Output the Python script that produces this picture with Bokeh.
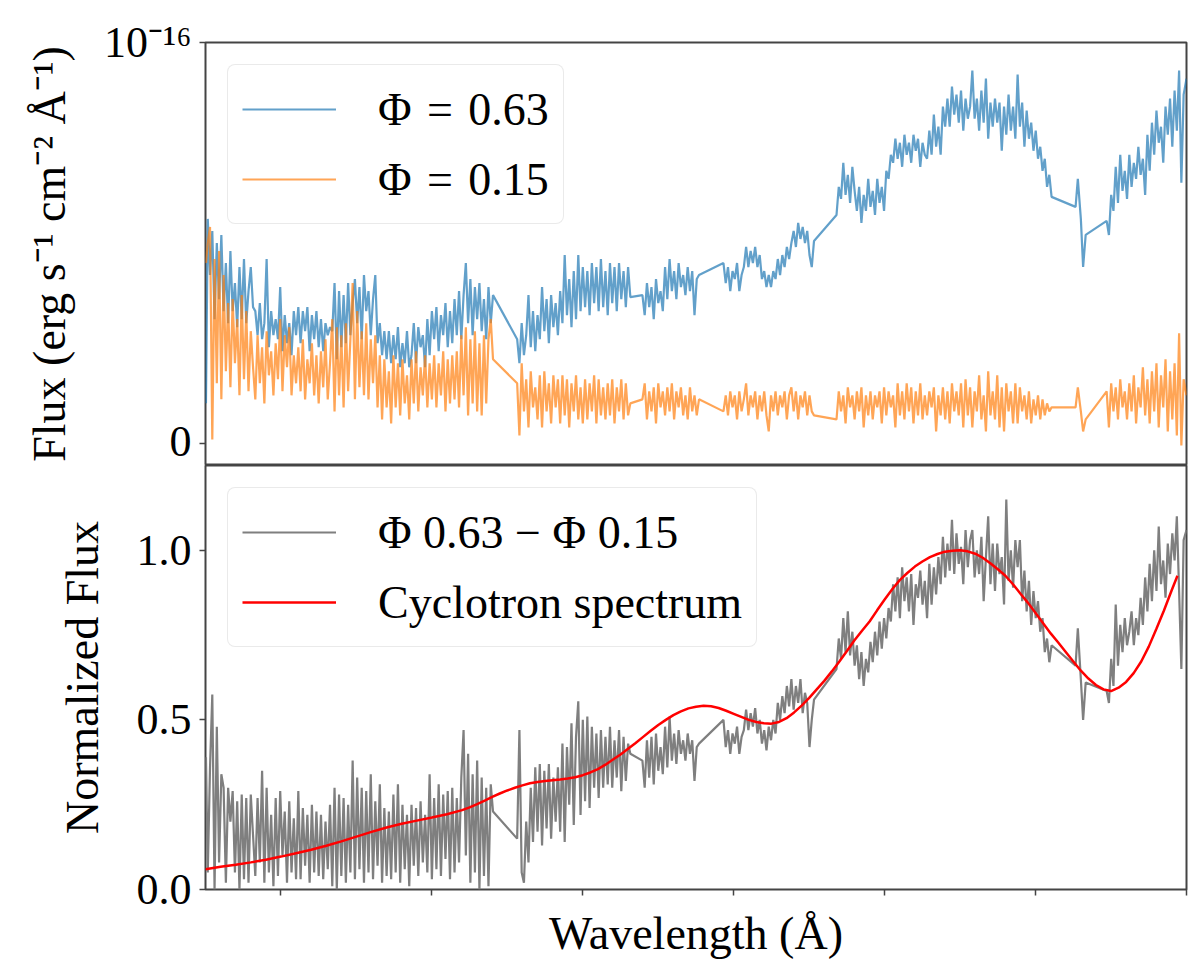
from bokeh.embed import file_html
from bokeh.layouts import column
from bokeh.models import FixedTicker, Legend, LegendItem, NumeralTickFormatter, Range1d
from bokeh.plotting import figure
from bokeh.resources import INLINE

# wavelength grid (Angstrom), shared by both phases and the difference spectrum
wave = [
    3503,
    3515, 3530, 3545, 3560, 3575, 3590, 3605, 3620, 3635, 3650,
    3665, 3680, 3695, 3710, 3725, 3740, 3755, 3770, 3785, 3800,
    3815, 3830, 3845, 3860, 3875, 3890, 3905, 3920, 3935, 3950,
    3965, 3980, 3995, 4010, 4025, 4040, 4055, 4070, 4085, 4100,
    4115, 4130, 4145, 4160, 4175, 4190, 4205, 4220, 4235, 4250,
    4265, 4280, 4295, 4310, 4325, 4340, 4355, 4370, 4385, 4400,
    4415, 4430, 4445, 4460, 4475, 4490, 4505, 4520, 4535, 4550,
    4565, 4580, 4595, 4610, 4625, 4640, 4655, 4670, 4685, 4700,
    4715, 4730, 4745, 4760, 4775, 4790, 4805, 4820, 4835, 4850,
    4865, 4880, 4895, 4910, 4925, 4940, 4955, 4970, 4985, 5000,
    5015, 5030, 5045, 5060, 5075, 5090, 5105, 5120, 5135, 5150,
    5165, 5180, 5195, 5210, 5225, 5240, 5255, 5270, 5285, 5300,
    5315, 5330, 5345, 5360, 5375, 5390, 5405,
    5565, 5580, 5595, 5610, 5625, 5640, 5655, 5670, 5685, 5700,
    5715, 5730, 5745, 5760, 5775, 5790, 5805, 5820, 5835, 5850,
    5865, 5880, 5895, 5910, 5925, 5940, 5955, 5970, 5985, 6000,
    6015, 6030, 6045, 6060, 6075, 6090, 6105, 6120, 6135, 6150,
    6165, 6180, 6195, 6210, 6225, 6240, 6255, 6270, 6285, 6300,
    6315,
    6395, 6410, 6425, 6440, 6455, 6470, 6485, 6500, 6515, 6530,
    6545, 6560, 6575, 6590, 6605, 6620, 6635, 6650, 6665, 6680,
    6695, 6710, 6725, 6740, 6755, 6770,
    6932, 6947, 6962, 6977, 6992, 7007, 7022, 7037, 7052, 7067,
    7082, 7097, 7112, 7127, 7142, 7157, 7172, 7187, 7202, 7217,
    7232, 7247, 7262, 7277, 7292, 7307, 7322, 7337, 7352, 7367,
    7382, 7397, 7412, 7427, 7442, 7457, 7472, 7487, 7502, 7517,
    7532,
    7681, 7696, 7711, 7726, 7741, 7756, 7771, 7786, 7801, 7816,
    7831, 7846, 7861, 7876, 7891, 7906, 7921, 7936, 7951, 7966,
    7981, 7996, 8011, 8026, 8041, 8056, 8071, 8086, 8101, 8116,
    8131, 8146, 8161, 8176, 8191, 8206, 8221, 8236, 8251, 8266,
    8281, 8296, 8311, 8326, 8341, 8356, 8371, 8386, 8401, 8416,
    8431, 8446, 8461, 8476, 8491, 8506, 8521, 8536, 8551, 8566,
    8581, 8596, 8611, 8626, 8641, 8656, 8671, 8686, 8701, 8716,
    8731, 8746, 8761, 8776, 8791, 8806, 8821, 8836, 8851, 8866,
    8881, 8896, 8911, 8926, 8941, 8956, 8971, 8986, 9001, 9016,
    9031, 9046, 9061, 9076, 9091, 9106,
    9265, 9280, 9300, 9315, 9332,
    9471, 9486, 9501, 9516, 9531, 9546, 9561, 9576, 9591, 9606,
    9621, 9636, 9651, 9666, 9681, 9696, 9711, 9726, 9741, 9756,
    9771, 9786, 9801, 9816, 9831, 9846, 9861, 9876, 9891, 9906,
    9921, 9936, 9951, 9966, 9981, 10000,
]

# flux at phase 0.63, in units of 1e-16 erg/s/cm2/A
flux_063 = [
    0.10,
    0.56, 0.42, 0.53, 0.31, 0.50, 0.36, 0.52, 0.33, 0.45, 0.30,
    0.48, 0.33, 0.40, 0.29, 0.44, 0.31, 0.46, 0.30, 0.38, 0.44,
    0.34, 0.33, 0.27, 0.35, 0.26, 0.30, 0.46, 0.24, 0.33, 0.27,
    0.31, 0.26, 0.39, 0.23, 0.32, 0.25, 0.30, 0.22, 0.33, 0.27,
    0.34, 0.25, 0.33, 0.28, 0.34, 0.23, 0.32, 0.26, 0.33, 0.24,
    0.31, 0.23, 0.30, 0.27, 0.29, 0.28, 0.40, 0.21, 0.38, 0.24,
    0.37, 0.25, 0.40, 0.27, 0.35, 0.41, 0.30, 0.39, 0.26, 0.42,
    0.33, 0.38, 0.27, 0.36, 0.42, 0.25, 0.30, 0.22, 0.28, 0.21,
    0.28, 0.20, 0.27, 0.21, 0.29, 0.19, 0.25, 0.20, 0.28, 0.19,
    0.22, 0.30, 0.20, 0.29, 0.24, 0.27, 0.19, 0.31, 0.22, 0.33,
    0.26, 0.34, 0.23, 0.32, 0.27, 0.35, 0.24, 0.33, 0.25, 0.36,
    0.27, 0.38, 0.26, 0.37, 0.45, 0.30, 0.41, 0.27, 0.39, 0.31,
    0.40, 0.28, 0.36, 0.26, 0.39, 0.30, 0.37,
    0.26, 0.20, 0.30, 0.22, 0.27, 0.37, 0.24, 0.33, 0.23, 0.32,
    0.26, 0.39, 0.28, 0.36, 0.25, 0.37, 0.29, 0.35, 0.27, 0.38,
    0.30, 0.47, 0.32, 0.41, 0.29, 0.43, 0.31, 0.47, 0.33, 0.44,
    0.34, 0.43, 0.32, 0.45, 0.35, 0.44, 0.33, 0.46, 0.34, 0.43,
    0.32, 0.45, 0.35, 0.44, 0.33, 0.45, 0.36, 0.43, 0.34, 0.44,
    0.365,
    0.37, 0.32, 0.40, 0.34, 0.39, 0.31, 0.41, 0.35, 0.38, 0.33,
    0.44, 0.36, 0.46, 0.38, 0.43, 0.36, 0.45, 0.39, 0.42, 0.37,
    0.44, 0.38, 0.43, 0.32, 0.41, 0.42,
    0.45, 0.40, 0.44, 0.38, 0.43, 0.41, 0.45, 0.38, 0.42, 0.44,
    0.49, 0.44, 0.48, 0.45, 0.49, 0.44, 0.47, 0.41, 0.43, 0.39,
    0.42, 0.39, 0.43, 0.41, 0.46, 0.42, 0.47, 0.44, 0.49, 0.46,
    0.50, 0.53, 0.49, 0.55, 0.51, 0.54, 0.50, 0.53, 0.47, 0.44,
    0.505,
    0.57, 0.64, 0.61, 0.70, 0.62, 0.67, 0.60, 0.69, 0.63, 0.58,
    0.64, 0.55, 0.62, 0.58, 0.66, 0.59, 0.63, 0.57, 0.66, 0.60,
    0.64, 0.58, 0.68, 0.66, 0.72, 0.70, 0.76, 0.71, 0.75, 0.69,
    0.77, 0.72, 0.75, 0.70, 0.77, 0.73, 0.76, 0.69, 0.75, 0.72,
    0.71, 0.78, 0.72, 0.82, 0.74, 0.79, 0.72, 0.84, 0.79, 0.86,
    0.79, 0.89, 0.82, 0.87, 0.80, 0.88, 0.78, 0.86, 0.81, 0.84,
    0.93, 0.81, 0.86, 0.78, 0.88, 0.80, 0.91, 0.76, 0.85, 0.79,
    0.86, 0.80, 0.85, 0.73, 0.84, 0.77, 0.87, 0.78, 0.84, 0.76,
    0.92, 0.79, 0.85, 0.74, 0.83, 0.76, 0.80, 0.73, 0.78, 0.71,
    0.74, 0.68, 0.71, 0.64, 0.67, 0.615,
    0.59, 0.66, 0.56, 0.44, 0.52,
    0.555, 0.52, 0.62, 0.58, 0.69, 0.60, 0.72, 0.63, 0.68, 0.61,
    0.72, 0.64, 0.70, 0.66, 0.74, 0.67, 0.71, 0.62, 0.77, 0.68,
    0.80, 0.72, 0.83, 0.75, 0.79, 0.70, 0.84, 0.77, 0.86, 0.74,
    0.88, 0.78, 0.93, 0.65, 0.87, 0.91,
]

# flux at phase 0.15, same units
flux_015 = [
    0.45,
    0.50, 0.54, 0.01, 0.46, 0.15, 0.48, 0.11, 0.42, 0.18, 0.35,
    0.14, 0.36, 0.20, 0.31, 0.12, 0.37, 0.16, 0.33, 0.13, 0.28,
    0.19, 0.11, 0.27, 0.15, 0.24, 0.10, 0.28, 0.17, 0.23, 0.12,
    0.25, 0.16, 0.31, 0.13, 0.27, 0.19, 0.29, 0.12, 0.22, 0.15,
    0.24, 0.13, 0.26, 0.11, 0.21, 0.15, 0.25, 0.12, 0.22, 0.10,
    0.23, 0.14, 0.26, 0.11, 0.20, 0.31, 0.08, 0.29, 0.12, 0.27,
    0.09, 0.30, 0.13, 0.26, 0.40, 0.11, 0.33, 0.14, 0.28, 0.12,
    0.30, 0.11, 0.26, 0.15, 0.27, 0.09, 0.22, 0.06, 0.21, 0.09,
    0.18, 0.05, 0.22, 0.09, 0.20, 0.07, 0.21, 0.10, 0.17, 0.06,
    0.21, 0.10, 0.23, 0.08, 0.19, 0.12, 0.22, 0.09, 0.20, 0.11,
    0.22, 0.09, 0.20, 0.12, 0.23, 0.08, 0.21, 0.10, 0.22, 0.11,
    0.23, 0.09, 0.27, 0.12, 0.29, 0.07, 0.26, 0.10, 0.28, 0.08,
    0.25, 0.07, 0.27, 0.10, 0.26, 0.31, 0.21,
    0.15, 0.02, 0.20, 0.08, 0.16, 0.04, 0.18, 0.09, 0.14, 0.06,
    0.17, 0.04, 0.18, 0.08, 0.15, 0.05, 0.17, 0.09, 0.16, 0.05,
    0.17, 0.07, 0.16, 0.04, 0.15, 0.08, 0.17, 0.06, 0.14, 0.05,
    0.16, 0.06, 0.15, 0.08, 0.17, 0.05, 0.16, 0.07, 0.14, 0.06,
    0.15, 0.07, 0.16, 0.05, 0.14, 0.08, 0.16, 0.06, 0.15, 0.07,
    0.10,
    0.11, 0.15, 0.06, 0.13, 0.08, 0.14, 0.05, 0.15, 0.09, 0.13,
    0.07, 0.14, 0.08, 0.15, 0.06, 0.13, 0.09, 0.14, 0.07, 0.12,
    0.06, 0.14, 0.08, 0.12, 0.07, 0.11,
    0.08, 0.12, 0.07, 0.13, 0.09, 0.12, 0.06, 0.13, 0.08, 0.11,
    0.15, 0.07, 0.12, 0.09, 0.13, 0.06, 0.12, 0.08, 0.13, 0.07,
    0.03, 0.12, 0.08, 0.13, 0.07, 0.12, 0.09, 0.13, 0.06, 0.12,
    0.14, 0.08, 0.13, 0.06, 0.12, 0.09, 0.13, 0.07, 0.12, 0.08,
    0.07,
    0.06, 0.13, 0.08, 0.12, 0.05, 0.14, 0.09, 0.12, 0.06, 0.13,
    0.08, 0.14, 0.04, 0.12, 0.07, 0.13, 0.06, 0.12, 0.09, 0.13,
    0.05, 0.14, 0.07, 0.13, 0.09, 0.12, 0.04, 0.15, 0.07, 0.13,
    0.06, 0.15, 0.08, 0.14, 0.05, 0.13, 0.07, 0.15, 0.06, 0.12,
    0.07, 0.13, 0.09, 0.14, 0.03, 0.12, 0.07, 0.14, 0.06, 0.13,
    0.05, 0.15, 0.08, 0.13, 0.07, 0.15, 0.04, 0.16, 0.07, 0.14,
    0.04, 0.13, 0.08, 0.17, 0.06, 0.12, 0.03, 0.18, 0.07, 0.13,
    0.06, 0.17, 0.04, 0.14, 0.03, 0.15, 0.08, 0.13, 0.05, 0.15,
    0.05, 0.14, 0.08, 0.12, 0.06, 0.13, 0.05, 0.11, 0.07, 0.12,
    0.06, 0.11, 0.07, 0.10, 0.08, 0.09,
    0.09, 0.14, 0.08, 0.03, 0.06,
    0.13, 0.04, 0.15, 0.08, 0.14, 0.06, 0.16, 0.09, 0.13, 0.06,
    0.15, 0.08, 0.17, 0.05, 0.14, 0.09, 0.19, 0.07, 0.16, 0.05,
    0.18, 0.08, 0.20, 0.04, 0.17, 0.09, 0.21, 0.03, 0.18, 0.06,
    0.20, 0.02, 0.275, -0.005, 0.16, 0.12,
]

# normalized difference spectrum (phase 0.63 - phase 0.15)
diff_norm = [
    0.39,
    0.05, 0.36, 0.575, 0.00, 0.48, 0.08, 0.34, 0.30, 0.02, 0.30,
    0.20, 0.29, 0.05, 0.26, 0.00, 0.28, 0.03, 0.27, 0.02, 0.28,
    0.16, 0.04, 0.27, 0.08, 0.35, 0.02, 0.30, 0.05, 0.22, 0.01,
    0.27, 0.04, 0.29, 0.10, 0.23, 0.02, 0.26, 0.05, 0.21, 0.03,
    0.29, 0.03, 0.24, 0.07, 0.22, 0.02, 0.25, 0.05, 0.23, 0.04,
    0.22, 0.03, 0.20, 0.06, 0.25, 0.01, 0.30, 0.00, 0.28, 0.04,
    0.27, 0.02, 0.25, 0.05, 0.38, 0.03, 0.33, 0.06, 0.30, 0.02,
    0.29, 0.05, 0.34, 0.03, 0.26, 0.07, 0.31, 0.02, 0.24, 0.04,
    0.23, 0.03, 0.28, 0.05, 0.31, 0.02, 0.25, 0.06, 0.22, 0.01,
    0.25, 0.07, 0.24, 0.04, 0.26, 0.08, 0.22, 0.05, 0.34, 0.03,
    0.27, 0.06, 0.31, 0.04, 0.28, 0.09, 0.29, 0.03, 0.30, 0.05,
    0.27, 0.08, 0.33, 0.47, 0.10, 0.40, 0.02, 0.34, 0.05, 0.38,
    0.00, 0.33, 0.04, 0.30, 0.01, 0.31, 0.23,
    0.15, 0.47, 0.05, 0.02, 0.20, 0.08, 0.30, 0.14, 0.36, 0.17,
    0.37, 0.13, 0.35, 0.18, 0.37, 0.15, 0.33, 0.20, 0.36, 0.17,
    0.43, 0.14, 0.42, 0.25, 0.49, 0.19, 0.45, 0.555, 0.22, 0.50,
    0.26, 0.51, 0.24, 0.48, 0.30, 0.46, 0.27, 0.47, 0.30, 0.45,
    0.31, 0.48, 0.30, 0.44, 0.33, 0.47, 0.29, 0.45, 0.32, 0.43,
    0.40,
    0.38, 0.30, 0.44, 0.33, 0.45, 0.31, 0.46, 0.35, 0.42, 0.34,
    0.48, 0.36, 0.51, 0.38, 0.46, 0.37, 0.47, 0.40, 0.44, 0.38,
    0.46, 0.40, 0.44, 0.32, 0.42, 0.43,
    0.50, 0.42, 0.47, 0.40, 0.46, 0.43, 0.48, 0.40, 0.45, 0.47,
    0.53, 0.47, 0.52, 0.48, 0.535, 0.46, 0.50, 0.43, 0.47, 0.41,
    0.48, 0.44, 0.50, 0.46, 0.55, 0.50, 0.57, 0.52, 0.60, 0.54,
    0.62, 0.53, 0.60, 0.55, 0.62, 0.52, 0.58, 0.55, 0.42, 0.50,
    0.56,
    0.65, 0.74, 0.68, 0.80, 0.70, 0.82, 0.69, 0.76, 0.66, 0.72,
    0.62, 0.70, 0.60, 0.68, 0.64, 0.73, 0.67, 0.76, 0.69, 0.79,
    0.71, 0.80, 0.74, 0.83, 0.79, 0.90, 0.82, 0.92, 0.80, 0.95,
    0.85, 0.92, 0.82, 0.93, 0.78, 0.90, 0.86, 0.94, 0.84, 0.91,
    0.80, 0.96, 0.84, 0.95, 0.87, 0.98, 0.90, 1.04, 0.92, 1.02,
    0.94, 1.09, 0.93, 1.05, 0.96, 1.01, 0.90, 1.06, 0.95, 1.03,
    1.06, 0.92, 1.00, 0.93, 1.04, 0.85, 0.98, 1.10, 0.90, 1.02,
    0.88, 1.02, 0.93, 0.98, 0.84, 1.15, 0.91, 1.00, 0.89, 1.03,
    0.95, 1.03, 0.85, 0.94, 0.82, 0.91, 0.78, 0.88, 0.80, 0.85,
    0.76, 0.80, 0.70, 0.74, 0.67, 0.72,
    0.66, 0.77, 0.62, 0.50, 0.61,
    0.585, 0.55, 0.68, 0.60, 0.84, 0.66, 0.78, 0.70, 0.80, 0.72,
    0.76, 0.82, 0.72, 0.80, 0.75, 0.86, 0.78, 0.92, 0.82, 0.96,
    0.85, 1.00, 0.88, 1.07, 0.90, 0.97, 0.86, 1.02, 0.93, 1.05,
    0.97, 1.10, 0.88, 0.65, 1.03, 1.06,
]

# cyclotron model, normalized
model_wave = [
    3500, 3600, 3700, 3800, 3900, 4000, 4100, 4200, 4300, 4400,
    4500, 4600, 4700, 4800, 4900, 5000, 5100, 5200, 5250, 5300,
    5350, 5400, 5450, 5500, 5550, 5600, 5650, 5700, 5750, 5800,
    5850, 5900, 5950, 6000, 6050, 6100, 6150, 6200, 6250, 6300,
    6350, 6400, 6450, 6500, 6550, 6600, 6650, 6700, 6750, 6800,
    6850, 6900, 6950, 7000, 7050, 7100, 7150, 7200, 7250, 7300,
    7350, 7400, 7450, 7500, 7550, 7600, 7650, 7700, 7750, 7800,
    7850, 7900, 7950, 8000, 8050, 8100, 8150, 8200, 8250, 8300,
    8350, 8400, 8450, 8500, 8550, 8600, 8650, 8700, 8750, 8800,
    8850, 8900, 8950, 9000, 9050, 9100, 9150, 9200, 9250, 9300,
    9350, 9400, 9450, 9500, 9550, 9600, 9650, 9700, 9750, 9800,
    9850, 9900, 9940,
]
model_norm = [
    0.060, 0.067, 0.073, 0.080, 0.088, 0.097, 0.107, 0.117, 0.129, 0.142,
    0.156, 0.170, 0.183, 0.194, 0.203, 0.212, 0.222, 0.234, 0.242, 0.252,
    0.262, 0.273, 0.283, 0.292, 0.300, 0.307, 0.313, 0.317, 0.320, 0.322,
    0.324, 0.327, 0.331, 0.337, 0.345, 0.355, 0.368, 0.383, 0.398, 0.415,
    0.432, 0.450, 0.468, 0.485, 0.500, 0.514, 0.525, 0.534, 0.539, 0.542,
    0.540, 0.535, 0.527, 0.518, 0.509, 0.500, 0.494, 0.490, 0.489, 0.494,
    0.505, 0.522, 0.542, 0.565, 0.590, 0.615, 0.643, 0.672, 0.703, 0.735,
    0.763, 0.790, 0.823, 0.855, 0.885, 0.912, 0.933, 0.952, 0.967, 0.980,
    0.989, 0.996, 0.999, 1.000, 0.997, 0.990, 0.978, 0.962, 0.944, 0.925,
    0.900, 0.872, 0.845, 0.815, 0.785, 0.755, 0.728, 0.700, 0.672, 0.645,
    0.622, 0.603, 0.590, 0.585, 0.595, 0.612, 0.638, 0.672, 0.716, 0.768,
    0.822, 0.880, 0.925,
]

wave_ticks = [4000, 5000, 6000, 7000, 8000, 9000, 10000]

assert len(wave) == len(flux_063) == len(flux_015) == len(diff_norm), (
    len(wave), len(flux_063), len(flux_015), len(diff_norm))
assert len(model_wave) == len(model_norm), (len(model_wave), len(model_norm))

SERIF = "Liberation Serif"
FRAME = "#444444"


def style_axes(p):
    p.outline_line_color = FRAME
    p.outline_line_width = 2
    p.grid.visible = False
    p.border_fill_color = "white"
    for ax in p.axis:
        ax.axis_line_color = None
        ax.major_tick_line_color = FRAME
        ax.major_tick_line_width = 1.5
        ax.major_tick_in = 0
        ax.major_tick_out = 6
        ax.minor_tick_line_color = None
        ax.major_label_standoff = 8
        ax.major_label_text_font = SERIF
        ax.major_label_text_font_size = "44px"
        ax.major_label_text_color = "black"
        ax.axis_label_text_font = SERIF
        ax.axis_label_text_font_size = "46px"
        ax.axis_label_text_font_style = "normal"
        ax.axis_label_text_color = "black"
        ax.axis_label_standoff = 26


def make_legend(items):
    return Legend(
        items=items, location="top_left", margin=22, padding=14, spacing=10,
        glyph_width=94, glyph_height=60, label_height=60, label_standoff=42,
        border_line_color="#d6d6d6", border_line_width=1.5, border_radius=8,
        background_fill_alpha=0.8,
        label_text_font=SERIF, label_text_font_size="46px", label_text_color="black",
    )


x_range = Range1d(3500, 10000)

top = figure(width=1192, height=465, x_range=x_range, y_range=Range1d(-0.055, 1.0),
             x_axis_location=None, toolbar_location=None, output_backend="svg",
             min_border_left=205, min_border_right=6, min_border_top=42, min_border_bottom=0)
r_063 = top.line(wave, flux_063, line_color="#1f77b4", line_alpha=0.7, line_width=2.2)
r_015 = top.line(wave, flux_015, line_color="#ff7f0e", line_alpha=0.7, line_width=2.2)
style_axes(top)
top.yaxis.ticker = FixedTicker(ticks=[0, 1])
top.yaxis.major_label_overrides = {0: "0", 1: "10⁻¹⁶"}
top.yaxis.axis_label = "Flux (erg s⁻¹ cm⁻² Å⁻¹)"
top.add_layout(make_legend([
    LegendItem(label="Φ\u2004=\u20040.63", renderers=[r_063]),
    LegendItem(label="Φ\u2004=\u20040.15", renderers=[r_015]),
]))

bot = figure(width=1192, height=499, x_range=x_range, y_range=Range1d(0, 1.25),
             toolbar_location=None, output_backend="svg",
             min_border_left=205, min_border_right=6, min_border_top=0, min_border_bottom=75)
r_diff = bot.line(wave, diff_norm, line_color="#7f7f7f", line_width=2.2)
r_model = bot.line(model_wave, model_norm, line_color="red", line_width=2.5)
style_axes(bot)
bot.xaxis.ticker = FixedTicker(ticks=wave_ticks)
bot.xaxis.major_label_overrides = {t: "" for t in wave_ticks}
bot.xaxis.axis_label = "Wavelength (Å)"
bot.xaxis.axis_label_standoff = 12
bot.yaxis.ticker = FixedTicker(ticks=[0, 0.5, 1.0])
bot.yaxis.formatter = NumeralTickFormatter(format="0.0")
bot.yaxis.axis_label = "Normalized Flux"
bot.add_layout(make_legend([
    LegendItem(label="Φ 0.63 − Φ 0.15", renderers=[r_diff]),
    LegendItem(label="Cyclotron spectrum", renderers=[r_model]),
]))

layout = column(top, bot, spacing=0)
open("out.html", "w").write(file_html(layout, INLINE))
